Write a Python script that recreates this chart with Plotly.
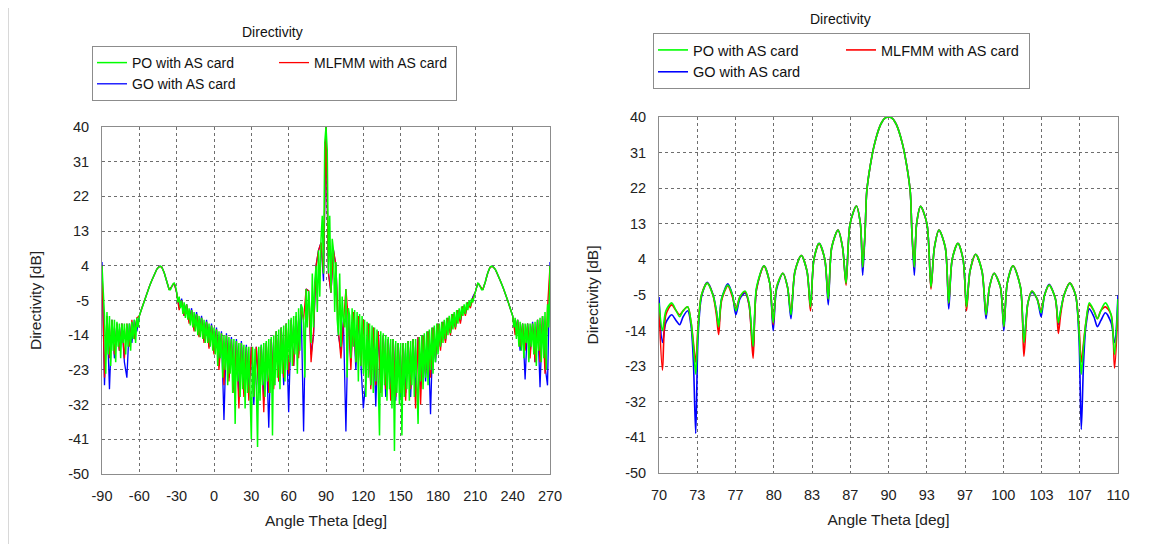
import numpy as np
import plotly.graph_objects as go

OFF = 8                      # page body margin in the browser
W, H = 1150 - OFF, 544 - OFF
FONT = "Arial, Liberation Sans, sans-serif"

# ---------------- Full sweep (left chart), theta -90..270 ----------------
theta_full_fine = list(range(-90, 271, 1))      # PO sampled every 1 deg
theta_full_coarse = list(range(-90, 271, 2))    # MLFMM / GO every 2 deg

po_full = [
    4, -4, -9, -24, -8, -19, -9, -22, -10, -18,
    -10, -21, -10.5, -17, -11, -20, -11, -16, -11, -19,
    -11, -17, -11, -18, -10.5, -15, -10, -16, -9.5, -12,
    -9, -8, -7, -6, -5, -4, -3, -2.2, -1.4, -0.6,
    0.2, 1, 1.8, 2.5, 3.1, 3.5, 3.8, 3.9, 3.7, 3.1,
    2.2, 1.1, -0.2, -1.4, -2.2, -2.2, -1.4, -0.7, -0.5, -1.2,
    -2.8, -5.5, -4, -7, -5, -8.5, -5.5, -9.5, -6, -10,
    -7, -11.5, -7.5, -12, -8, -13, -8.5, -14, -9, -14.5,
    -9.5, -15, -10, -16, -10.5, -16, -11, -17, -11.5, -18,
    -12, -19, -12.5, -22, -13, -20, -13.5, -25, -14, -23,
    -14, -27, -14.5, -24, -15, -29, -15, -37, -15.5, -26,
    -16, -30, -16, -28, -16.5, -33, -17, -29, -17, -31,
    -41, -17, -30, -17.5, -27, -43, -17, -31, -16.5, -27,
    -16, -30, -15.5, -26, -15, -29, -14.5, -40, -14, -27,
    -13, -25, -12.5, -28, -12, -24, -11.5, -26, -11, -23,
    -10, -21, -9.5, -22, -9, -19, -8, -24, -7, -18,
    -6, -7, -11, -25, -2, -12, -2.5, -7, -16, 2,
    -12, 0, 4, -8, 8, -4, 11, 17, 2, 36,
    40, 34, 2, 17, -3, 11, 8, -8, 5, -10,
    -14, 2, -17, -4, -10, -12, -2, -25, -7, -9,
    -20, -7, -17, -7.5, -21, -8, -26, -8.5, -22, -9,
    -24, -10, -30, -10.5, -25, -11, -27, -11.5, -29, -12,
    -26, -12.5, -28, -40, -13, -30, -13.5, -27, -14, -31,
    -14.5, -28, -15, -33, -15, -44, -15.5, -29, -16, -32,
    -16, -40, -16, -30, -16, -28, -15.5, -31, -15.5, -27,
    -15, -30, -15, -29, -37, -14.5, -26, -14, -28, -13.5,
    -25, -13, -27, -12.5, -23, -12, -24, -11.5, -21, -11,
    -19, -11, -17, -10.5, -16, -10, -15, -9.5, -14, -9,
    -13.5, -8.5, -12.5, -8, -12, -7.5, -11, -7, -10, -6.5,
    -9, -6, -8.5, -5.5, -7.5, -5, -6.5, -4.5, -5.5, -4,
    -2.8, -1.2, -0.5, -0.7, -1.4, -2.2, -2.2, -1.4, -0.2, 1.1,
    2.2, 3.1, 3.7, 3.9, 3.8, 3.5, 3.1, 2.5, 1.8, 1,
    0.2, -0.6, -1.4, -2.2, -3, -4, -5, -6, -7, -8,
    -9, -12, -9.5, -15, -10, -17, -10.5, -18, -11, -20,
    -11, -16, -11, -21, -11, -17, -11, -19, -10.5, -22,
    -10, -18, -9.5, -21, -9, -20, -8, -23, -6, -12,
    4,
]

mlfmm_full = [
    4, -25, -9, -20, -10, -19, -11, -18, -11, -20,
    -11, -17, -10, -15, -9.5, -9, -7, -5, -3, -1.4,
    0.2, 1.8, 3.1, 3.8, 3.7, 2.2, -0.2, -2.2, -1.4, -0.5,
    -3, -7.5, -5, -9, -6, -11, -7.5, -13, -8.5, -14.5,
    -9.5, -16, -10.5, -17.5, -11.5, -19, -12.5, -23, -13.5, -27,
    -14, -26, -15, -29, -15.5, -33, -16, -30, -17, -31,
    -17, -30, -17, -28, -17, -34, -16, -29, -15, -28,
    -13, -26, -12, -25, -11, -24, -10, -22, -9, -20,
    -7, -10, -2, -2.5, -21, -13, 4, 8, 10, 2,
    40, 2, -3, 8, 4, -13, -20, -10, -2, -10,
    -23, -8, -21, -9, -22, -10, -25, -11, -28, -12,
    -27, -13, -29, -14, -28, -15, -31, -15, -30, -16,
    -29, -16, -31, -15.5, -28, -15, -33, -14.5, -32, -14,
    -24, -13, -25, -12, -20, -11, -18, -10.5, -16, -9.5,
    -14, -8.5, -12.5, -7.5, -11, -6.5, -9, -5.5, -7, -4.5,
    -2.8, -0.5, -1.4, -2.2, -0.2, 2.2, 3.7, 3.8, 3.1, 1.8,
    0.2, -1.4, -3, -5, -7, -9, -14, -10, -17, -11,
    -18, -11, -20, -11, -21, -10, -21, -9, -24, -7,
    4,
]

go_full = [
    5, -27, -9, -28, -10, -20, -11, -18, -11, -21,
    -25, -11, -16, -10, -13, -9, -7, -5, -3, -1.4,
    0.2, 1.8, 3.1, 3.9, 3.7, 2.2, -0.2, -2.2, -1.4, -0.5,
    -3, -7, -4.5, -9, -6, -10.5, -7, -12.5, -8, -14,
    -9, -15.5, -10, -17, -11, -18.5, -12, -22, -13, -36,
    -13.5, -25, -14.5, -28, -15, -30, -15.5, -27, -16.5, -29,
    -17, -32, -17, -29, -16.5, -31, -16, -38, -15, -27,
    -13, -26, -12, -27, -11, -34, -10, -22, -9, -19,
    -6, -39, -2, -2.5, -19, -14, 4, 8, 10, 0,
    40, 2, -3, 8, 4, -14, -18, -10, -39, -8,
    -21, -8, -23, -9, -21, -33, -26, -11, -27, -12,
    -32.5, -13, -28, -14, -30, -15, -29, -15, -31, -16,
    -30, -16, -29, -15.5, -30, -15, -29, -14.5, -28, -14,
    -26, -13, -34.5, -12, -21, -11, -17, -10.5, -15.5, -9.5,
    -13.5, -8.5, -12, -7.5, -10.5, -6.5, -8.5, -5.5, -6.5, -4,
    -2.8, -0.5, -1.4, -2.2, -0.2, 2.2, 3.7, 3.9, 3.1, 1.8,
    0.2, -1.4, -3, -5, -7, -9, -13, -10, -18, -11,
    -25.5, -11, -19, -10.5, -21, -10, -27.5, -9, -22, -27,
    5,
]

# ---------------- Zoomed sweep (right chart), theta 70..110 ----------------
theta_zoom = [
    70.0, 70.3, 70.6, 71.1, 71.5, 71.8, 72.1, 72.5, 72.8, 73.0, 73.2, 73.4, 73.7,
    74.2, 74.7, 75.0, 75.2, 75.45, 76.0, 76.4, 76.7, 77.05, 77.5, 77.85, 78.2,
    78.5, 79.15, 79.65, 79.95, 80.25, 80.8, 81.2, 81.5, 81.85, 82.4, 82.9, 83.2,
    83.5, 83.95, 84.45, 84.75, 85.05, 85.6, 86.0, 86.3, 86.65, 87.2, 87.55, 87.75,
    87.96, 88.1, 88.4, 88.8, 89.3, 89.65, 90.0, 90.35, 90.7, 91.2, 91.6, 91.9, 92.04,
    92.25, 92.45, 92.8, 93.35, 93.7, 94.0, 94.4, 94.95, 95.25, 95.55, 96.05, 96.5,
    96.8, 97.1, 97.6, 98.15, 98.5, 98.8, 99.2, 99.75, 100.05, 100.35, 100.85, 101.5,
    101.8, 102.15, 102.5, 102.95, 103.3, 103.6, 104.0, 104.55, 104.8, 105.0, 105.3,
    105.8, 106.3, 106.6, 106.8, 107.0, 107.2, 107.5, 107.9, 108.2, 108.5, 108.9,
    109.4, 109.7, 110.0,
]

po_zoom = [
    -7, -14, -9, -7, -9, -10.5, -9, -8, -12, -18, -25, -14, -5,
    -2, -5, -9, -13, -6, -2.5, -5, -9, -5.5, -4, -7, -18,
    -3, 2.4, -2, -12, -3, 0.5, -3, -10, 1, 5, 1, -8,
    4, 8.1, 4, -6, 7, 11.4, 7, -2, 13, 17.5, 13, 2,
    11, 21, 27.5, 33.4, 38, 39.6, 40, 39.6, 38, 33.4, 27.5, 21, 11,
    2, 13, 17.4, 13, -3, 7, 11.4, 7, -7, 4, 8.1, 4,
    -8, 1, 5.3, 1, -10, -3, 0.5, -3, -13, -2, 2.4, -3,
    -17, -7, -4, -6, -9.5, -5, -2.5, -6, -12, -9, -5,
    -2, -5, -14, -25, -18, -12, -7, -9, -11, -9, -7,
    -10, -20, -6,
]

mlfmm_zoom = [
    -8, -24, -10, -7.5, -9, -10, -9, -8, -12, -17, -22, -13, -5,
    -2, -5, -10, -15, -6.5, -2.7, -5.5, -8.5, -5.5, -4.2, -7.5, -21,
    -3.5, 2.3, -2, -12.5, -3, 0.5, -3, -9.5, 1, 5, 1, -9,
    4, 8, 4, -6, 7, 11.4, 7, -2.5, 13, 17.5, 13, 2,
    11, 21, 27.5, 33.4, 38, 39.6, 40, 39.6, 38, 33.4, 27.5, 21, 11,
    2, 13, 17.4, 13, -3.5, 7, 11.4, 7, -7, 4, 8.1, 4,
    -9, 1, 5.3, 1, -10, -3, 0.5, -3, -13, -2, 2.4, -3,
    -20.5, -7, -4, -6, -9, -5, -2.5, -6, -14.7, -10, -5,
    -2, -5, -13, -22, -17, -12, -7.5, -9, -11, -9, -8,
    -10, -23.5, -8,
]

go_zoom = [
    -5.5, -17, -12, -10, -11.5, -12.5, -10.5, -9, -13, -22, -40, -16, -5.5,
    -1.8, -4.8, -9, -13, -6, -2.2, -5, -10, -6, -4.5, -7.5, -19,
    -3.5, 2.4, -2, -14, -3.5, 0.5, -3, -11, 1, 5, 1, -8,
    4, 8.1, 4, -7.5, 7, 11.4, 7, -2, 13, 17.5, 13, 0,
    11, 21, 27.5, 33.4, 38, 39.6, 40, 39.6, 38, 33.4, 27.5, 21, 11,
    0, 13, 17.4, 13, -3, 7, 11.4, 7, -8.5, 4, 8.1, 4,
    -8, 1, 5.3, 1, -11, -3, 0.5, -3, -14, -2, 2.4, -3,
    -17, -7, -4.3, -6, -10.5, -5, -2.3, -6, -12.5, -9, -5,
    -2, -5, -16, -39, -22, -13, -8.5, -10.5, -13, -11.5, -9.5,
    -12, -17, -5,
]

# ---------------- Labels ----------------
series_names = ["PO with AS card", "MLFMM with AS card", "GO with AS card"]
series_colors = ["#00ff00", "#ff0000", "#0000ff"]
y_tick_labels = ["-50", "-41", "-32", "-23", "-14", "-5", "4", "13", "22", "31", "40"]
full_tick_labels = ["-90", "-60", "-30", "0", "30", "60", "90", "120", "150", "180", "210", "240", "270"]
zoom_tick_labels = ["70", "73", "77", "80", "83", "87", "90", "93", "97", "100", "103", "107", "110"]
chart_title = "Directivity"
x_title = "Angle Theta [deg]"
y_title = "Directivity [dB]"

fig = go.Figure()

def px_x(p):
    return (p - OFF) / W

def px_y(p):
    return 1 - (p - OFF) / H

# left traces: draw blue, red, then green on top
left_specs = [
    (theta_full_coarse, go_full, 2, "g1", 3, 1.3),
    (theta_full_coarse, mlfmm_full, 1, "g2", 2, 1.3),
    (theta_full_fine, po_full, 0, "g1", 1, 1.5),
]
for xs, ys, idx, grp, rank, lw in left_specs:
    fig.add_trace(go.Scatter(
        x=xs, y=ys, mode="lines", name=series_names[idx],
        line=dict(color=series_colors[idx], width=lw),
        legendgroup=grp, legendrank=rank, legend="legend",
        xaxis="x", yaxis="y", hoverinfo="skip",
    ))

right_specs = [
    (go_zoom, 2, "h1", 3),
    (mlfmm_zoom, 1, "h2", 2),
    (po_zoom, 0, "h1", 1),
]
for ys, idx, grp, rank in right_specs:
    fig.add_trace(go.Scatter(
        x=theta_zoom, y=ys, mode="lines", name=series_names[idx],
        line=dict(color=series_colors[idx], width=1.6, shape="spline", smoothing=0.8),
        legendgroup=grp, legendrank=rank, legend="legend2",
        xaxis="x2", yaxis="y2", hoverinfo="skip",
    ))

y_vals = [float(v) for v in y_tick_labels]
full_vals = [float(v) for v in full_tick_labels]
zoom_vals = list(np.linspace(70, 110, len(zoom_tick_labels)))

TITLE_FONT = dict(family=FONT, size=15.5, color="#222")
axis_common = dict(
    showline=True, linecolor="#8c8c8c", linewidth=1, mirror=True,
    showgrid=True, gridcolor="#6e6e6e", griddash="dot", gridwidth=1,
    zeroline=False, ticks="", tickfont=dict(family=FONT, size=14.5, color="#222"),
    automargin=False, ticklabelstandoff=9,
)

fig.update_layout(
    width=W, height=H,
    margin=dict(l=0, r=0, t=0, b=0, autoexpand=False),
    paper_bgcolor="white", plot_bgcolor="white",
    font=dict(family=FONT, size=14, color="#222"),
    xaxis=dict(domain=[px_x(102), px_x(550)], range=[-90, 270],
               tickvals=full_vals, ticktext=full_tick_labels, anchor="y",
               title=dict(text=x_title, standoff=11, font=TITLE_FONT), **axis_common),
    yaxis=dict(domain=[px_y(474), px_y(127)], range=[-50, 40],
               tickvals=y_vals, ticktext=y_tick_labels, anchor="x",
               title=dict(text=y_title, standoff=22, font=TITLE_FONT), **axis_common),
    xaxis2=dict(domain=[px_x(659), px_x(1118)], range=[70, 110],
                tickvals=zoom_vals, ticktext=zoom_tick_labels, anchor="y2",
                title=dict(text=x_title, standoff=11, font=TITLE_FONT), **axis_common),
    yaxis2=dict(domain=[px_y(473), px_y(117)], range=[-50, 40],
                tickvals=y_vals, ticktext=y_tick_labels, anchor="x2",
                title=dict(text=y_title, standoff=22, font=TITLE_FONT), **axis_common),
    legend=dict(
        x=px_x(92), y=px_y(46), xanchor="left", yanchor="top",
        orientation="h", traceorder="grouped", entrywidth=137,
        bordercolor="#8c8c8c", borderwidth=1, bgcolor="white",
        font=dict(family=FONT, size=14, color="#111"), tracegroupgap=0,
    ),
    legend2=dict(
        x=px_x(653), y=px_y(33), xanchor="left", yanchor="top",
        orientation="h", traceorder="grouped", entrywidth=143,
        bordercolor="#8c8c8c", borderwidth=1, bgcolor="white",
        font=dict(family=FONT, size=14.5, color="#111"), tracegroupgap=0,
    ),
    annotations=[
        dict(text=chart_title, x=px_x(272), y=px_y(32), xref="paper", yref="paper",
             showarrow=False, xanchor="center", yanchor="middle",
             font=dict(family=FONT, size=14, color="#111")),
        dict(text=chart_title, x=px_x(840), y=px_y(19), xref="paper", yref="paper",
             showarrow=False, xanchor="center", yanchor="middle",
             font=dict(family=FONT, size=14, color="#111")),
    ],
    shapes=[
        dict(type="line", xref="paper", yref="paper", x0=0, x1=0,
             y0=0, y1=1, line=dict(color="#d8d8d8", width=2)),
    ],
    showlegend=True,
)

fig.write_html("out.html")
